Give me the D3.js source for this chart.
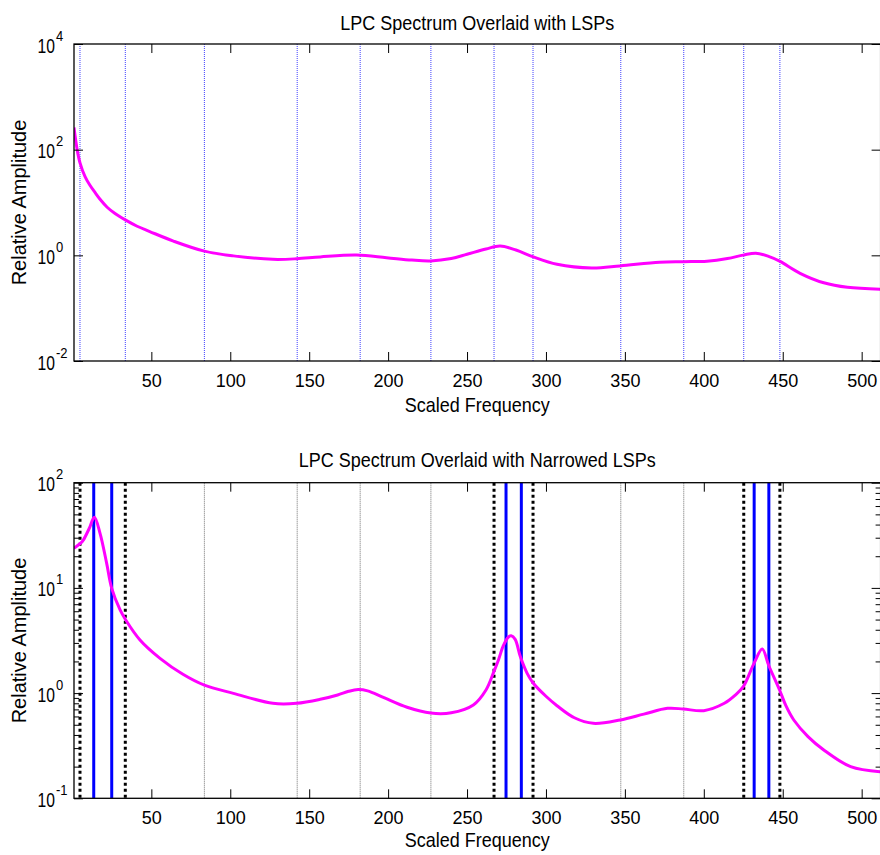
<!DOCTYPE html>
<html>
<head>
<meta charset="utf-8">
<script src="https://cdn.jsdelivr.net/npm/d3@7/dist/d3.min.js"></script>
<style>
  html, body { margin: 0; padding: 0; background: #fff; }
  svg { display: block; }
  text { font-family: "Liberation Sans", Arial, Helvetica, sans-serif; fill: #000; }
</style>
</head>
<body>
<svg id="chart" width="880" height="855"></svg>
<script>
// ---------------- DATA ----------------
// Top panel spectrum (scaled frequency, relative amplitude)
const freqTop = [1, 3, 4.8, 8, 11, 14.3, 17.5, 22, 27, 33.5, 41, 49, 64, 83.6, 102, 127, 142, 157, 180, 199, 215, 227, 240, 250, 262, 271, 281, 292, 307, 329, 347, 372, 387, 402, 415, 425, 433, 441, 448, 461, 476, 491, 512];
const ampTop = [263, 100, 56.2, 30.9, 21.4, 15.5, 11.5, 8.13, 6.17, 4.68, 3.55, 2.82, 1.86, 1.20, 0.977, 0.841, 0.861, 0.933, 1.01, 0.902, 0.813, 0.785, 0.871, 1.05, 1.32, 1.50, 1.26, 0.933, 0.676, 0.575, 0.631, 0.741, 0.759, 0.776, 0.871, 1.01, 1.10, 0.955, 0.776, 0.457, 0.302, 0.248, 0.229];

// Bottom panel spectrum (narrowed-bandwidth LPC)
const freqBot = [1, 4.8, 6.9, 10.7, 13.9, 17.5, 21.7, 24.9, 30.2, 33.8, 42.8, 55.5, 70, 83.6, 102, 127, 142, 157, 168, 175, 181, 187, 197, 212, 227, 240, 254, 262, 267, 270, 273, 276, 278, 280.5, 283.8, 288, 292, 300, 307, 318, 330, 347, 362, 377, 387, 400, 413, 420, 425, 432, 437, 441.2, 448, 452, 457, 466, 476, 493, 512];
const ampBot = [23.8, 26.3, 28.5, 36.9, 46.9, 33.0, 17.1, 9.91, 6.17, 4.95, 3.20, 2.14, 1.51, 1.19, 0.995, 0.800, 0.800, 0.873, 0.960, 1.04, 1.08, 1.05, 0.910, 0.733, 0.646, 0.650, 0.771, 1.07, 1.60, 2.09, 2.82, 3.39, 3.51, 3.24, 2.21, 1.55, 1.24, 0.933, 0.759, 0.583, 0.516, 0.555, 0.631, 0.716, 0.706, 0.681, 0.800, 0.959, 1.15, 1.95, 2.63, 1.82, 1.07, 0.759, 0.555, 0.386, 0.288, 0.200, 0.179];

// Line spectral pairs
const lspAll = [4.8, 33.5, 83.6, 142.4, 182.3, 227.1, 267.1, 291.8, 347.4, 387.3, 425.3, 448.2];
const lspBracket = [4.8, 33.5, 267.1, 291.8, 425.3, 448.2];
const lspOther = [83.6, 142.4, 182.3, 227.1, 347.4, 387.3];
const lspNarrowed = [13.5, 24.9, 274.7, 284.4, 431.9, 441.2];

// Axis ticks and texts
const xTicks = [50, 100, 150, 200, 250, 300, 350, 400, 450, 500];
const yTicksTop = [1e-2, 1, 1e2, 1e4];
const yTicksBot = [1e-1, 1, 1e1, 1e2];
const titles = ["LPC Spectrum Overlaid with LSPs", "LPC Spectrum Overlaid with Narrowed LSPs"];
const xLabel = "Scaled Frequency";
const yLabel = "Relative Amplitude";

// ---------------- LAYOUT ----------------
const svg = d3.select("#chart");
const left = 74, right = 880.6;
const x = d3.scaleLinear().domain([1, 512]).range([left, right]);

const panels = [
  { top: 44, bottom: 361, yDomain: [1e-2, 1e4], yTicks: yTicksTop, minor: false,
    freq: freqTop, amp: ampTop, title: titles[0], titleY: 30, xlabY: 411.7 },
  { top: 482.7, bottom: 798.3, yDomain: [1e-1, 1e2], yTicks: yTicksBot, minor: true,
    freq: freqBot, amp: ampBot, title: titles[1], titleY: 466.7, xlabY: 847 }
];

function stretchedText(g, px, py, str, size, sx, sy, anchor) {
  return g.append("text")
    .attr("transform", `translate(${px},${py}) scale(${sx},${sy})`)
    .attr("text-anchor", anchor || "middle")
    .style("font-size", size + "px")
    .text(str);
}

panels.forEach((p, idx) => {
  const g = svg.append("g");
  const y = d3.scaleLog().domain(p.yDomain).range([p.bottom, p.top]);
  const clipId = "clip" + idx;
  svg.append("clipPath").attr("id", clipId).append("rect")
    .attr("x", left).attr("y", p.top).attr("width", right - left).attr("height", p.bottom - p.top);

  const plot = g.append("g").attr("clip-path", `url(#${clipId})`);

  if (idx === 0) {
    plot.selectAll("line.lsp").data(lspAll).join("line")
      .attr("x1", d => x(d)).attr("x2", d => x(d))
      .attr("y1", p.top).attr("y2", p.bottom)
      .attr("stroke", "#0000ff").attr("stroke-width", 1)
      .attr("stroke-dasharray", "1,1").attr("opacity", 0.75);
  } else {
    plot.selectAll("line.other").data(lspOther).join("line")
      .attr("x1", d => x(d)).attr("x2", d => x(d))
      .attr("y1", p.top).attr("y2", p.bottom)
      .attr("stroke", "#000").attr("stroke-width", 0.8)
      .attr("stroke-dasharray", "1,1").attr("opacity", 0.7);
    plot.selectAll("line.bracket").data(lspBracket).join("line")
      .attr("x1", d => x(d)).attr("x2", d => x(d))
      .attr("y1", p.top).attr("y2", p.bottom)
      .attr("stroke", "#000").attr("stroke-width", 3)
      .attr("stroke-dasharray", "3,3");
    plot.selectAll("line.narrow").data(lspNarrowed).join("line")
      .attr("x1", d => x(d)).attr("x2", d => x(d))
      .attr("y1", p.top).attr("y2", p.bottom)
      .attr("stroke", "#0000ff").attr("stroke-width", 3);
  }

  const pts = p.freq.map((f, i) => [f, p.amp[i]]);
  const line = d3.line().x(d => x(d[0])).y(d => y(d[1])).curve(d3.curveCatmullRom.alpha(0.5));
  plot.append("path").datum(pts)
    .attr("d", line)
    .attr("fill", "none").attr("stroke", "#ff00ff").attr("stroke-width", 3)
    .attr("stroke-linejoin", "round");

  // Box
  g.append("rect").attr("x", left).attr("y", p.top)
    .attr("width", right - left).attr("height", p.bottom - p.top)
    .attr("fill", "none").attr("stroke", "#000").attr("stroke-width", 1.3);

  // X ticks (bottom and top, inward)
  const xAxisB = d3.axisBottom(x).tickValues(xTicks).tickSizeInner(-9).tickSizeOuter(0).tickPadding(16);
  const gxb = g.append("g").attr("transform", `translate(0,${p.bottom})`).call(xAxisB);
  gxb.select(".domain").remove();
  gxb.selectAll("line").attr("stroke", "#000");
  gxb.selectAll("text").style("font-size", "18px").attr("dy", null).attr("y", 25.7);
  const xAxisT = d3.axisTop(x).tickValues(xTicks).tickSizeInner(-9).tickSizeOuter(0).tickFormat("");
  const gxt = g.append("g").attr("transform", `translate(0,${p.top})`).call(xAxisT);
  gxt.select(".domain").remove();
  gxt.selectAll("line").attr("stroke", "#000");

  // Y ticks (left and right, inward)
  const yAxisL = d3.axisLeft(y).tickValues(p.yTicks).tickSizeInner(-9).tickSizeOuter(0).tickFormat("");
  const gyl = g.append("g").attr("transform", `translate(${left},0)`).call(yAxisL);
  gyl.select(".domain").remove();
  gyl.selectAll("line").attr("stroke", "#000");
  const yAxisR = d3.axisRight(y).tickValues(p.yTicks).tickSizeInner(-9).tickSizeOuter(0).tickFormat("");
  const gyr = g.append("g").attr("transform", `translate(${right},0)`).call(yAxisR);
  gyr.select(".domain").remove();
  gyr.selectAll("line").attr("stroke", "#000");

  if (p.minor) {
    const minors = [];
    p.yTicks.slice(0, -1).forEach(t => { for (let k = 2; k <= 9; k++) minors.push(t * k); });
    const mL = d3.axisLeft(y).tickValues(minors).tickSizeInner(-5).tickSizeOuter(0).tickFormat("");
    const gml = g.append("g").attr("transform", `translate(${left},0)`).call(mL);
    gml.select(".domain").remove();
    gml.selectAll("line").attr("stroke", "#000");
    const mR = d3.axisRight(y).tickValues(minors).tickSizeInner(-5).tickSizeOuter(0).tickFormat("");
    const gmr = g.append("g").attr("transform", `translate(${right},0)`).call(mR);
    gmr.select(".domain").remove();
    gmr.selectAll("line").attr("stroke", "#000");
  }

  // Y tick labels: 10^n
  p.yTicks.forEach(t => {
    const e = Math.round(Math.log10(t));
    const ty = y(t);
    stretchedText(g, 55, ty + 8.5, "10", 18, 0.87, 1.09, "end");
    stretchedText(g, 56, ty - 3.5, String(e), 13, 1, 1.1, "start");
  });

  // Title and axis labels
  stretchedText(g, (left + right) / 2, p.titleY, p.title, 18, 1, 1.12, "middle");
  stretchedText(g, (left + right) / 2, p.xlabY, xLabel, 18, 1, 1.08, "middle");
  g.append("text")
    .attr("transform", `translate(26,${(p.top + p.bottom) / 2}) rotate(-90)`)
    .attr("text-anchor", "middle")
    .style("font-size", "20px")
    .text(yLabel);
});
</script>
</body>
</html>
